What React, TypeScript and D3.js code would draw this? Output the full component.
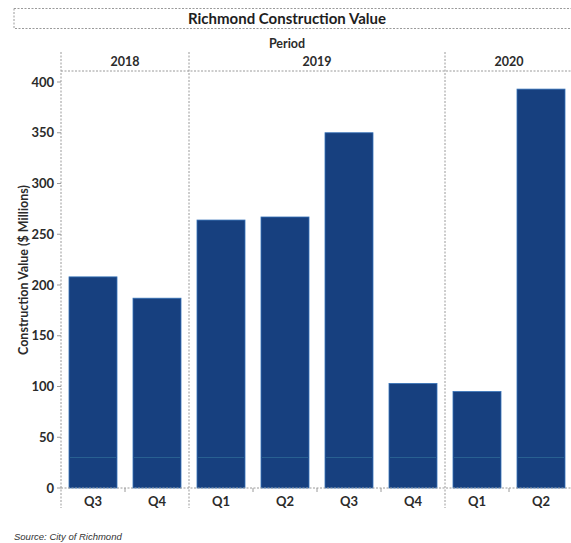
import React from "react";
import * as d3 from "d3";

const yearGroups = [
  { year: "2018", quarters: ["Q3", "Q4"] },
  { year: "2019", quarters: ["Q1", "Q2", "Q3", "Q4"] },
  { year: "2020", quarters: ["Q1", "Q2"] },
];
const categories = ["2018-Q3", "2018-Q4", "2019-Q1", "2019-Q2", "2019-Q3", "2019-Q4", "2020-Q1", "2020-Q2"];
const values = [208, 187, 264, 267, 350, 103, 95, 393];
const yTicks = [0, 50, 100, 150, 200, 250, 300, 350, 400];

const W = 571;
const H = 543;
const FONT = "Lato, 'Open Sans', sans-serif";
const TEXT = "#2b2b2b";
const GRID = "#9a9a9a";

export default function App() {
  const x = d3.scaleBand<string>().domain(categories).range([61, 573]).paddingInner(0.25).paddingOuter(0.125);
  const y = d3.scaleLinear().domain([0, 400]).range([488, 82]);
  const step = x.step();
  const left = 61;

  let idx = 0;
  const groupSpans = yearGroups.map((g) => {
    const startCat = categories[idx];
    const endCat = categories[idx + g.quarters.length - 1];
    const x0 = (x(startCat) as number) - (step - x.bandwidth()) / 2;
    const x1 = (x(endCat) as number) + x.bandwidth() + (step - x.bandwidth()) / 2;
    idx += g.quarters.length;
    return { ...g, x0, x1, startIdx: idx - g.quarters.length };
  });

  const dash = "2,1.5";

  return (
    <svg width={W} height={H} style={{ position: "absolute", left: 0, top: 0, background: "#fff" }}>
      <rect x={14} y={8.5} width={W + 5} height={20} fill="none" stroke={GRID} strokeDasharray={dash} strokeWidth={1} />
      <text x={287} y={23.5} textAnchor="middle" fontFamily={FONT} fontWeight={700} fontSize={15} fill="#1e1e1e">
        Richmond Construction Value
      </text>
      <text x={287} y={48} textAnchor="middle" fontFamily={FONT} fontWeight={700} fontSize={12.5} fill={TEXT}>
        Period
      </text>

      <line x1={left} x2={W} y1={71} y2={71} stroke={GRID} strokeDasharray={dash} />

      {groupSpans.map((g, i) => (
        <g key={g.year}>
          <text x={(g.x0 + g.x1) / 2} y={66} textAnchor="middle" fontFamily={FONT} fontWeight={700} fontSize={12.5} fill={TEXT}>
            {g.year}
          </text>
          {i > 0 && <line x1={g.x0} x2={g.x0} y1={52} y2={508} stroke={GRID} strokeDasharray={dash} />}
        </g>
      ))}

      <line x1={left} x2={left} y1={52} y2={508} stroke={GRID} strokeDasharray={dash} />

      {yTicks.map((t) => (
        <g key={t}>
          <line x1={left - 4} x2={left} y1={y(t)} y2={y(t)} stroke={GRID} />
          <text x={left - 7} y={y(t) + 4.5} textAnchor="end" fontFamily={FONT} fontWeight={700} fontSize={13} fill={TEXT}>
            {t}
          </text>
        </g>
      ))}

      <text
        transform={`translate(28, 270) rotate(-90)`}
        textAnchor="middle"
        fontFamily={FONT}
        fontWeight={700}
        fontSize={12.5}
        fill={TEXT}
      >
        Construction Value ($ Millions)
      </text>

      {categories.map((c, i) => (
        <g key={c}>
          <rect
            x={x(c)}
            y={y(values[i])}
            width={x.bandwidth()}
            height={y(0) - y(values[i])}
            fill="#17407f"
            stroke="#3672b8"
            strokeWidth={0.8}
          />
          <line
            x1={(x(c) as number) + 1}
            x2={(x(c) as number) + x.bandwidth() - 1}
            y1={y(30)}
            y2={y(30)}
            stroke="#3f86a8"
            strokeWidth={0.7}
            opacity={0.7}
          />
        </g>
      ))}

      <line x1={left} x2={W} y1={y(0)} y2={y(0)} stroke={GRID} strokeDasharray={dash} />

      {groupSpans.map((g) =>
        g.quarters.slice(1).map((q, k) => {
          const c = categories[g.startIdx + k + 1];
          const xx = (x(c) as number) - (step - x.bandwidth()) / 2;
          return <line key={g.year + q} x1={xx} x2={xx} y1={y(0)} y2={y(0) + 4} stroke={GRID} />;
        })
      )}

      {groupSpans.map((g) =>
        g.quarters.map((q, k) => {
          const c = categories[g.startIdx + k];
          return (
            <text
              key={c}
              x={(x(c) as number) + x.bandwidth() / 2}
              y={506}
              textAnchor="middle"
              fontFamily={FONT}
              fontWeight={700}
              fontSize={13}
              fill={TEXT}
            >
              {q}
            </text>
          );
        })
      )}

      <text x={14} y={540} fontFamily="'Liberation Sans', Arial, sans-serif" fontStyle="italic" fontSize={9.5} fill="#333">
        Source: City of Richmond
      </text>
    </svg>
  );
}
